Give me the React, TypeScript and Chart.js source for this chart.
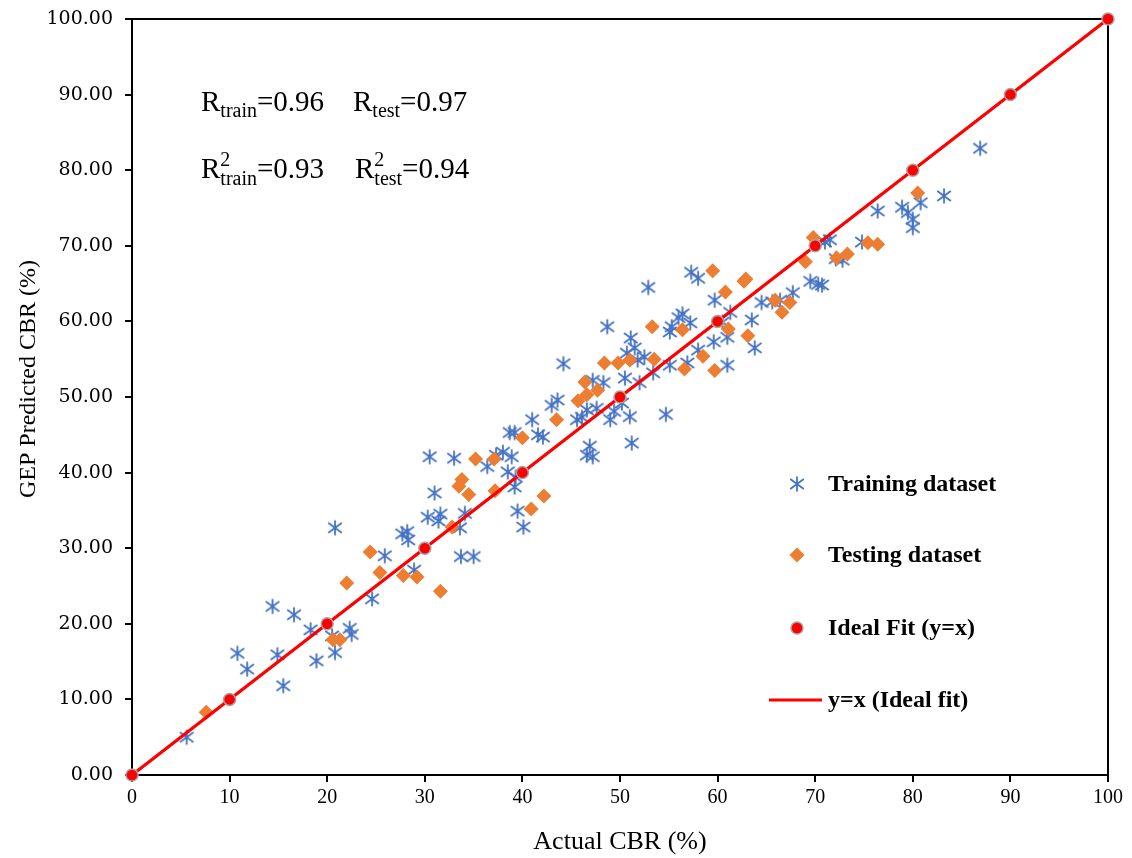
import React, { useEffect, useRef } from 'react';
import { Chart, registerables } from 'chart.js';

Chart.register(...registerables);

// ---- Data ----
const trainActual = [
  5.6, 10.8, 11.8, 14.4, 14.9, 15.5, 16.6, 18.3, 18.9, 20.8, 20.8, 20.5, 22.3, 22.5, 24.6, 25.9,
  27.7, 28.2, 28.3, 28.9, 30.3, 30.5, 31.0, 31.4, 31.6, 33.0, 33.6, 33.7, 34.1, 35.0, 36.4, 37.3,
  38.0, 38.7, 38.5, 38.9, 39.2, 39.2, 39.3, 39.5, 40.1, 41.0, 41.6, 42.1, 43.0, 43.6, 44.2, 45.6,
  46.1, 46.6, 46.6, 46.9, 47.2, 47.2, 48.3, 48.7, 49.0, 49.4, 50.2, 50.5, 50.7, 51.0, 51.2, 51.1,
  51.5, 51.8, 52.0, 52.9, 53.4, 54.7, 55.1, 55.3, 55.1, 56.4, 56.9, 57.2, 57.3, 58.0, 58.0, 59.6,
  59.7, 60.5, 61.0, 61.0, 61.3, 63.5, 63.8, 64.5, 65.6, 66.4, 67.7, 69.5, 70.3, 70.7, 71.0, 71.5,
  72.1, 72.8, 74.8, 76.4, 78.9, 79.5, 80.0, 80.0, 80.8, 83.2, 86.9, 56.0, 52.5, 47.6,
];
const trainPredicted = [
  5.0, 16.1, 14.0, 22.3, 15.9, 11.8, 21.2, 19.2, 15.1, 32.7, 16.2, 18.4, 19.4, 18.6, 23.3, 29.0,
  31.9, 32.2, 31.1, 27.1, 34.1, 42.1, 37.3, 33.6, 34.5, 41.9, 32.7, 28.9, 34.6, 28.9, 40.8, 42.3,
  42.7, 45.3, 40.1, 42.1, 45.3, 38.1, 39.4, 34.9, 32.8, 47.0, 45.0, 44.7, 48.9, 49.6, 54.4, 47.0,
  47.3, 48.3, 42.3, 43.5, 42.1, 52.2, 51.9, 59.3, 47.0, 48.1, 49.2, 52.5, 55.8, 47.4, 43.9, 57.8,
  56.5, 54.9, 51.9, 64.5, 53.2, 47.7, 58.6, 59.3, 54.2, 61.0, 54.5, 59.8, 66.5, 65.7, 56.2, 57.3,
  62.8, 59.9, 57.9, 54.2, 61.2, 60.2, 56.5, 62.5, 62.6, 62.8, 63.8, 65.3, 64.9, 64.8, 70.5, 70.8,
  68.3, 68.1, 70.5, 74.6, 75.1, 74.4, 73.5, 72.4, 75.7, 76.6, 82.9, 60.5, 55.3, 48.5,
];
const testActual = [
  7.6, 20.6, 21.3, 22.0, 24.4, 25.4, 27.8, 29.2, 31.6, 32.8, 33.5, 33.8, 34.5, 35.2, 37.1, 37.2,
  40.0, 40.9, 42.2, 43.5, 45.7, 46.4, 46.6, 47.7, 48.4, 49.8, 51.0, 53.3, 53.5, 56.4, 56.6, 58.5,
  59.5, 59.7, 60.8, 61.1, 62.7, 62.9, 63.1, 65.9, 66.6, 67.4, 69.0, 69.8, 72.2, 73.3, 75.4, 76.4,
  80.5,
];
const testPredicted = [
  8.3, 17.9, 17.9, 25.4, 29.5, 26.8, 26.4, 26.2, 24.3, 32.8, 38.2, 39.1, 37.1, 41.8, 41.8, 37.6,
  44.6, 35.2, 36.9, 47.0, 49.5, 52.0, 50.3, 50.9, 54.5, 54.5, 54.9, 59.3, 55.0, 58.9, 53.7, 55.4,
  66.7, 53.5, 63.9, 59.0, 65.3, 65.6, 58.1, 62.8, 61.2, 62.5, 67.9, 71.1, 68.4, 68.9, 70.4, 70.2,
  77.0,
];
const idealValues = [0, 10, 20, 30, 40, 50, 60, 70, 80, 90, 100];
const lineEnds = [0, 100];

const legendLabels = ['Training dataset', 'Testing dataset', 'Ideal Fit (y=x)', 'y=x (Ideal fit)'];
const xTitle = 'Actual CBR (%)';
const yTitle = 'GEP Predicted CBR (%)';
const statsRow1 = [
  { sup: '', sub: 'train', val: '=0.96' },
  { sup: '', sub: 'test', val: '=0.97' },
];
const statsRow2 = [
  { sup: '2', sub: 'train', val: '=0.93' },
  { sup: '2', sub: 'test', val: '=0.94' },
];

const BLUE = '#4472C4';
const ORANGE = '#ED7D31';
const RED = '#FF0000';
const GREY = '#A5A5A5';
const SERIF = '"Liberation Serif", "Times New Roman", serif';

function makeAsterisk(): HTMLCanvasElement {
  const c = document.createElement('canvas');
  c.width = 18;
  c.height = 18;
  const ctx = c.getContext('2d')!;
  ctx.strokeStyle = BLUE;
  ctx.lineWidth = 1.8;
  ctx.lineCap = 'butt';
  const m = 9;
  ctx.beginPath();
  ctx.moveTo(m, m - 7.5);
  ctx.lineTo(m, m + 7.5);
  ctx.moveTo(m - 6.8, m - 5);
  ctx.lineTo(m + 6.8, m + 5);
  ctx.moveTo(m + 6.8, m - 5);
  ctx.lineTo(m - 6.8, m + 5);
  ctx.stroke();
  return c;
}

export default function App() {
  const ref = useRef<HTMLCanvasElement | null>(null);

  useEffect(() => {
    if (!ref.current) return;
    const star = makeAsterisk();

    const overlay = {
      id: 'overlay',
      beforeDatasetsDraw(chart: any) {
        const { ctx, chartArea } = chart;
        ctx.save();
        ctx.strokeStyle = '#000';
        ctx.lineWidth = 2;
        ctx.beginPath();
        ctx.moveTo(chartArea.left, chartArea.top);
        ctx.lineTo(chartArea.right, chartArea.top);
        ctx.lineTo(chartArea.right, chartArea.bottom);
        ctx.stroke();
        ctx.restore();
      },
      afterDraw(chart: any) {
        const { ctx } = chart;
        ctx.save();
        // y axis title
        ctx.save();
        ctx.translate(29, 379);
        ctx.rotate(-Math.PI / 2);
        ctx.font = `24px ${SERIF}`;
        ctx.fillStyle = '#000';
        ctx.textAlign = 'center';
        ctx.textBaseline = 'middle';
        ctx.fillText(yTitle, 0, 0);
        ctx.restore();

        ctx.fillStyle = '#000';
        ctx.textBaseline = 'alphabetic';
        ctx.textAlign = 'left';
        const big = `29px ${SERIF}`;
        const small = `20px ${SERIF}`;
        const drawStat = (startX: number, baseline: number, s: { sup: string; sub: string; val: string }) => {
          let x = startX;
          ctx.font = big;
          ctx.fillText('R', x, baseline);
          x += ctx.measureText('R').width;
          ctx.font = small;
          let w = 0;
          if (s.sup) {
            ctx.fillText(s.sup, x, baseline - 12);
            w = ctx.measureText(s.sup).width;
          }
          ctx.fillText(s.sub, x, baseline + (s.sup ? 7 : 6));
          w = Math.max(w, ctx.measureText(s.sub).width);
          x += w;
          ctx.font = big;
          ctx.fillText(s.val, x, baseline);
        };
        drawStat(201, 111, statsRow1[0]);
        drawStat(353, 111, statsRow1[1]);
        drawStat(201, 178, statsRow2[0]);
        drawStat(355, 178, statsRow2[1]);

        // legend
        const rowsY = [484, 555, 628, 700];
        const mx = 797;
        const tx = 828;
        ctx.drawImage(star, mx - 9, rowsY[0] - 9);
        ctx.fillStyle = ORANGE;
        ctx.beginPath();
        ctx.moveTo(mx, rowsY[1] - 7.5);
        ctx.lineTo(mx + 7.5, rowsY[1]);
        ctx.lineTo(mx, rowsY[1] + 7.5);
        ctx.lineTo(mx - 7.5, rowsY[1]);
        ctx.closePath();
        ctx.fill();
        ctx.beginPath();
        ctx.arc(mx, rowsY[2], 6, 0, Math.PI * 2);
        ctx.fillStyle = RED;
        ctx.fill();
        ctx.lineWidth = 1.5;
        ctx.strokeStyle = GREY;
        ctx.stroke();
        ctx.beginPath();
        ctx.moveTo(769, rowsY[3]);
        ctx.lineTo(822, rowsY[3]);
        ctx.strokeStyle = RED;
        ctx.lineWidth = 3;
        ctx.stroke();
        ctx.fillStyle = '#000';
        ctx.font = `bold 24px ${SERIF}`;
        ctx.textBaseline = 'middle';
        legendLabels.forEach((t, i) => ctx.fillText(t, tx, rowsY[i] + 1));
        ctx.restore();
      },
    };

    const chart = new Chart(ref.current, {
      type: 'scatter',
      data: {
        datasets: [
          {
            label: 'Ideal Fit (y=x)',
            data: idealValues.map((v) => ({ x: v, y: v })),
            pointStyle: 'circle',
            pointRadius: 6,
            backgroundColor: RED,
            borderColor: GREY,
            borderWidth: 1.5,
            clip: false as any,
          },
          {
            label: 'y=x (Ideal fit)',
            data: lineEnds.map((v) => ({ x: v, y: v })),
            showLine: true,
            pointRadius: 0,
            borderColor: RED,
            borderWidth: 3.3,
            clip: false as any,
          },
          {
            label: 'Testing dataset',
            data: testActual.map((x, i) => ({ x, y: testPredicted[i] })),
            pointStyle: 'rectRot',
            pointRadius: 7.5,
            backgroundColor: ORANGE,
            borderColor: ORANGE,
            borderWidth: 0,
          },
          {
            label: 'Training dataset',
            data: trainActual.map((x, i) => ({ x, y: trainPredicted[i] })),
            pointStyle: star as any,
            pointRadius: 8,
            backgroundColor: BLUE,
            borderColor: BLUE,
          },
        ],
      },
      options: {
        responsive: false,
        animation: false,
        events: [],
        layout: { autoPadding: false, padding: { left: 0, top: 19, right: 24, bottom: 0 } },
        plugins: {
          legend: { display: false },
          tooltip: { enabled: false },
        },
        scales: {
          x: {
            type: 'linear',
            min: 0,
            max: 100,
            afterFit: (s: any) => {
              s.height = 83;
              s.paddingLeft = 0;
              s.paddingRight = 0;
            },
            ticks: {
              stepSize: 10,
              color: '#000',
              padding: 4,
              font: { family: SERIF, size: 20 },
              maxRotation: 0,
            },
            grid: {
              drawOnChartArea: false,
              drawTicks: true,
              tickLength: 7,
              color: '#000',
              lineWidth: 2,
            },
            border: { display: true, color: '#000', width: 2 },
            title: {
              display: true,
              text: xTitle,
              color: '#000',
              font: { family: SERIF, size: 26 },
              padding: { top: 0, bottom: 0 },
            },
          },
          y: {
            type: 'linear',
            min: 0,
            max: 100,
            afterFit: (s: any) => {
              s.width = 132;
              s.paddingTop = 0;
              s.paddingBottom = 0;
            },
            ticks: {
              stepSize: 10,
              color: '#000',
              padding: 12,
              font: { family: '"DejaVu Serif", serif', size: 19 },
              callback: (v: any) => Number(v).toFixed(2),
            },
            grid: {
              drawOnChartArea: false,
              drawTicks: true,
              tickLength: 7,
              color: '#000',
              lineWidth: 2,
            },
            border: { display: true, color: '#000', width: 2 },
          },
        },
      },
      plugins: [overlay],
    });
    return () => chart.destroy();
  }, []);

  return (
    <div style={{ position: 'absolute', left: 0, top: 0, width: 1132, height: 858, background: '#fff' }}>
      <canvas ref={ref} width={1132} height={858} style={{ display: 'block' }} />
    </div>
  );
}
